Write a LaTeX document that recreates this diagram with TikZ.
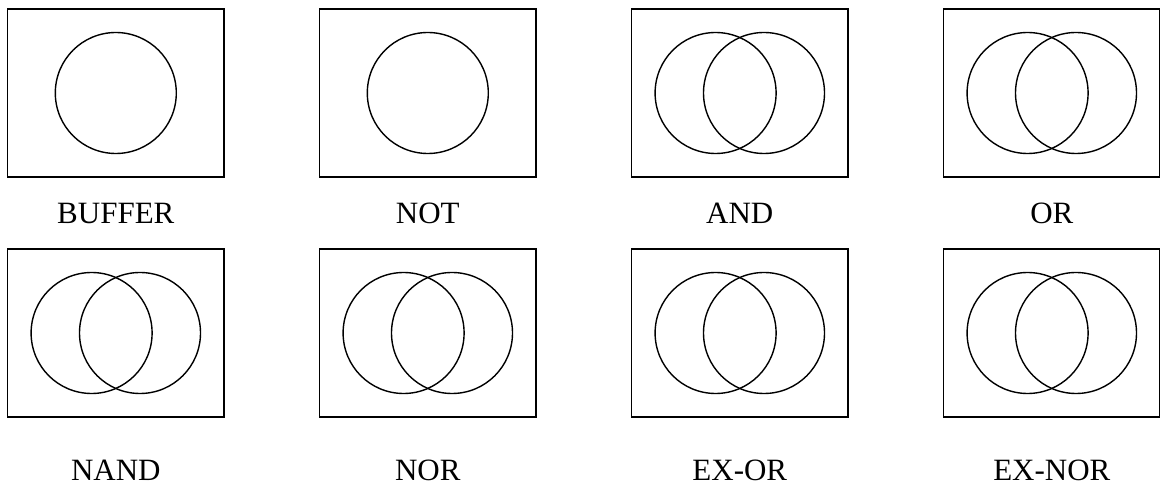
\documentclass[tikz,border=0pt]{standalone}
\usepackage{fontspec}
\setmainfont{Liberation Serif}
\begin{document}
\begin{tikzpicture}[x=1pt,y=-1pt,
  frame/.style={draw=black,line width=1.6pt,minimum width=216.5pt,minimum height=168pt,inner sep=0pt,outer sep=0pt},
  ring/.style={draw=black,line width=1.4pt,circle,minimum size=121pt,inner sep=0pt},
  lbl/.style={font=\fontsize{31}{36}\selectfont,inner sep=0pt,anchor=base}]
\useasboundingbox (0,0) rectangle (1160,486);
% top row
\node[frame] (b1) at (115.8,93) {};
\node[frame] (b2) at (427.8,93) {};
\node[frame] (b3) at (739.8,93) {};
\node[frame] (b4) at (1051.8,93) {};
\node[ring] (c1) at (115.8,93) {};
\node[ring] (c2) at (427.8,93) {};
\node[ring] (c3a) at (715.6,93) {};
\node[ring] (c3b) at (764,93) {};
\node[ring] (c4a) at (1027.6,93) {};
\node[ring] (c4b) at (1076,93) {};
\node[lbl] (t1) at (115.8,223.5) {BUFFER};
\node[lbl] (t2) at (427.8,223.5) {NOT};
\node[lbl] (t3) at (739.8,223.5) {AND};
\node[lbl] (t4) at (1051.8,223.5) {OR};
% bottom row
\node[frame] (b5) at (115.8,333) {};
\node[frame] (b6) at (427.8,333) {};
\node[frame] (b7) at (739.8,333) {};
\node[frame] (b8) at (1051.8,333) {};
\node[ring] (c5a) at (91.6,333) {};
\node[ring] (c5b) at (140,333) {};
\node[ring] (c6a) at (403.6,333) {};
\node[ring] (c6b) at (452,333) {};
\node[ring] (c7a) at (715.6,333) {};
\node[ring] (c7b) at (764,333) {};
\node[ring] (c8a) at (1027.6,333) {};
\node[ring] (c8b) at (1076,333) {};
\node[lbl] (t5) at (115.8,480.5) {NAND};
\node[lbl] (t6) at (427.8,480.5) {NOR};
\node[lbl] (t7) at (739.8,480.5) {EX-OR};
\node[lbl] (t8) at (1051.8,480.5) {EX-NOR};
\end{tikzpicture}
\end{document}
